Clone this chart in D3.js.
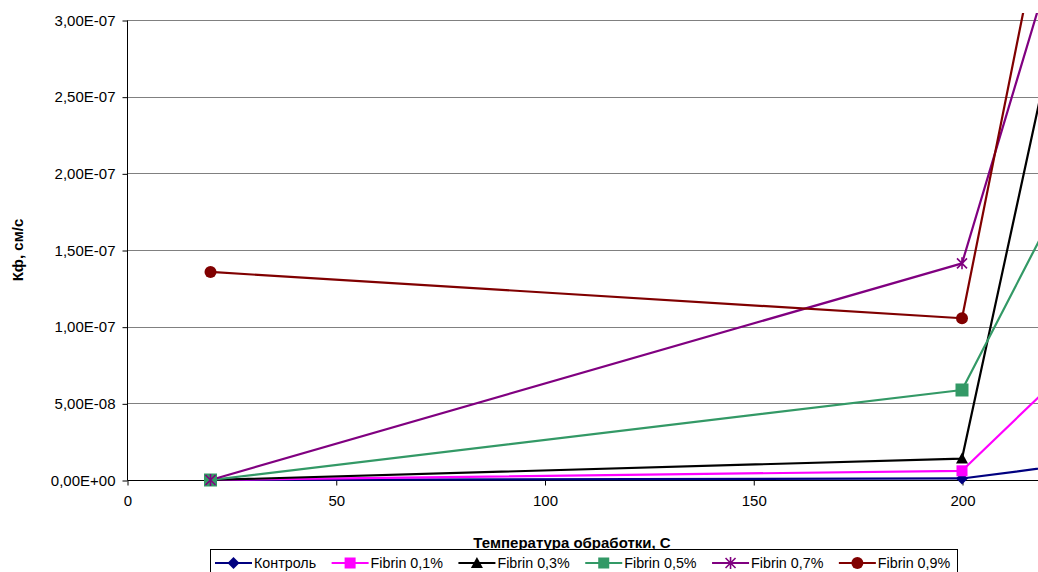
<!DOCTYPE html>
<html>
<head>
<meta charset="utf-8">
<script src="https://cdn.jsdelivr.net/npm/d3@7"></script>
<style>
  html, body { margin: 0; padding: 0; background: #fff; }
  svg { display: block; font-family: "Liberation Sans", Arial, sans-serif; }
</style>
</head>
<body>
<svg id="chart" width="1038" height="572"></svg>
<script>
// Treatment temperatures, °C
const temperatures = [20, 200, 300];

// Filtration coefficient, cm/s, per sample
const seriesNames = ["Контроль", "Fibrin 0,1%", "Fibrin 0,3%", "Fibrin 0,5%", "Fibrin 0,7%", "Fibrin 0,9%"];
const kontrol   = [0, 1.0e-9, 3.6e-8];
const fibrin01  = [0, 6.0e-9, 2.68e-7];
const fibrin03  = [0, 1.4e-8, 1.27e-6];
const fibrin05  = [0, 5.87e-8, 5.86e-7];
const fibrin07  = [0, 1.413e-7, 1.05e-6];
const fibrin09  = [1.357e-7, 1.055e-7, 1.466e-6];
const seriesValues = [kontrol, fibrin01, fibrin03, fibrin05, fibrin07, fibrin09];

const xTicks = [0, 50, 100, 150, 200];
const yTicks = [0, 5e-8, 1e-7, 1.5e-7, 2e-7, 2.5e-7, 3e-7];

const colors  = ["#000080", "#FF00FF", "#000000", "#339966", "#800080", "#800000"];
const markers = ["diamond", "square", "triangle", "bigsquare", "star", "circle"];

const svg = d3.select("#chart");
const W = 1038, H = 572;
const plotLeft = 127, plotTop = 20, plotBottom = 480;

const x = d3.scaleLinear().domain([0, 200]).range([plotLeft, 962]);
const y = d3.scaleLinear().domain([0, 3e-7]).range([plotBottom, plotTop]);

const fmtY = v => {
  if (v === 0) return "0,00E+00";
  const e = Math.floor(Math.log10(v) + 1e-9);
  const m = v / Math.pow(10, e);
  const es = (e < 0 ? "-" : "+") + String(Math.abs(e)).padStart(2, "0");
  return m.toFixed(2).replace(".", ",") + "E" + es;
};

// Horizontal gridlines
svg.append("g")
  .selectAll("line").data(yTicks.filter(d => d > 0)).join("line")
  .attr("x1", plotLeft).attr("x2", W)
  .attr("y1", d => Math.round(y(d)) + 0.5).attr("y2", d => Math.round(y(d)) + 0.5)
  .attr("stroke", "#808080").attr("stroke-width", 1);

// Y axis
const yAxis = svg.append("g")
  .attr("transform", `translate(${plotLeft + 0.5},0.5)`)
  .call(d3.axisLeft(y).tickValues(yTicks).tickFormat(fmtY).tickSize(5).tickPadding(7));
yAxis.select(".domain").attr("stroke", "#000").attr("d", `M0,${plotTop}V${plotBottom}`);
yAxis.selectAll(".tick line").attr("stroke", "#000");
yAxis.selectAll(".tick text")
  .attr("font-size", "15px").attr("fill", "#000")
  .attr("font-family", "Liberation Sans, Arial, sans-serif");

// X axis
const xAxis = svg.append("g")
  .attr("transform", `translate(0.5,${plotBottom + 0.5})`)
  .call(d3.axisBottom(x).tickValues(xTicks).tickFormat(d3.format("d")).tickSize(5).tickPadding(10));
xAxis.select(".domain").attr("stroke", "#000").attr("d", `M${plotLeft},0H${W}`);
xAxis.selectAll(".tick line").attr("stroke", "#000");
xAxis.selectAll(".tick text")
  .attr("font-size", "15px").attr("fill", "#000")
  .attr("font-family", "Liberation Sans, Arial, sans-serif");

// Axis titles
svg.append("text")
  .attr("transform", `translate(23,${(plotTop + plotBottom) / 2}) rotate(-90)`)
  .attr("text-anchor", "middle")
  .attr("font-size", "15px").attr("font-weight", "bold")
  .text("Кф, см/с");

svg.append("text")
  .attr("x", 572).attr("y", 548)
  .attr("text-anchor", "middle")
  .attr("font-size", "15px").attr("font-weight", "bold")
  .text("Температура обработки, С");

// Clip for the series lines
svg.append("defs").append("clipPath").attr("id", "plotclip")
  .append("rect").attr("x", plotLeft).attr("y", 13).attr("width", W - plotLeft + 10).attr("height", plotBottom - 13 + 2);

const line = d3.line().x(d => x(d[0])).y(d => y(d[1]));

function drawMarker(g, type, color, cx, cy) {
  switch (type) {
    case "diamond":
      g.append("path").attr("d", `M${cx},${cy - 6}L${cx + 6},${cy}L${cx},${cy + 6}L${cx - 6},${cy}Z`)
        .attr("fill", color);
      break;
    case "square":
      g.append("rect").attr("x", cx - 5.5).attr("y", cy - 5.5).attr("width", 11).attr("height", 11)
        .attr("fill", color);
      break;
    case "bigsquare":
      g.append("rect").attr("x", cx - 6.5).attr("y", cy - 6.5).attr("width", 13).attr("height", 13)
        .attr("fill", color);
      break;
    case "triangle":
      g.append("path").attr("d", `M${cx},${cy - 6}L${cx + 6},${cy + 5}L${cx - 6},${cy + 5}Z`)
        .attr("fill", color);
      break;
    case "circle":
      g.append("circle").attr("cx", cx).attr("cy", cy).attr("r", 6).attr("fill", color);
      break;
    case "star":
      g.append("path")
        .attr("d", `M${cx - 5},${cy - 5}L${cx + 5},${cy + 5}M${cx - 5},${cy + 5}L${cx + 5},${cy - 5}M${cx},${cy - 6}V${cy + 6}`)
        .attr("stroke", color).attr("stroke-width", 1.6).attr("fill", "none");
      break;
  }
}

// Series lines and markers
const plot = svg.append("g");
seriesValues.forEach((vals, i) => {
  const pts = temperatures.map((t, j) => [t, vals[j]]);
  plot.append("path")
    .attr("d", line(pts))
    .attr("clip-path", "url(#plotclip)")
    .attr("fill", "none").attr("stroke", colors[i]).attr("stroke-width", 2.2)
    .attr("stroke-linejoin", "round");
});
seriesValues.forEach((vals, i) => {
  temperatures.forEach((t, j) => {
    const cx = x(t), cy = y(vals[j]);
    if (cx > W) return;
    drawMarker(plot.append("g"), markers[i], colors[i], cx, cy);
  });
});

// Legend
const legend = svg.append("g");
const legY = 563;
legend.append("rect")
  .attr("x", 210.5).attr("y", 549.5).attr("width", 747).attr("height", 40)
  .attr("fill", "#fff").attr("stroke", "#000").attr("stroke-width", 1);

let lx = 215;
seriesNames.forEach((name, i) => {
  const g = legend.append("g");
  g.append("line").attr("x1", lx).attr("x2", lx + 37).attr("y1", legY).attr("y2", legY)
    .attr("stroke", colors[i]).attr("stroke-width", 2.2);
  drawMarker(g, markers[i] === "bigsquare" ? "square" : markers[i], colors[i], lx + 18.5, legY);
  const t = g.append("text").attr("x", lx + 39).attr("y", legY + 5)
    .attr("font-size", "14.3px").attr("fill", "#000").text(name);
  const w = t.node().getComputedTextLength();
  lx = lx + 39 + w + 15.5;
});
</script>
</body>
</html>
